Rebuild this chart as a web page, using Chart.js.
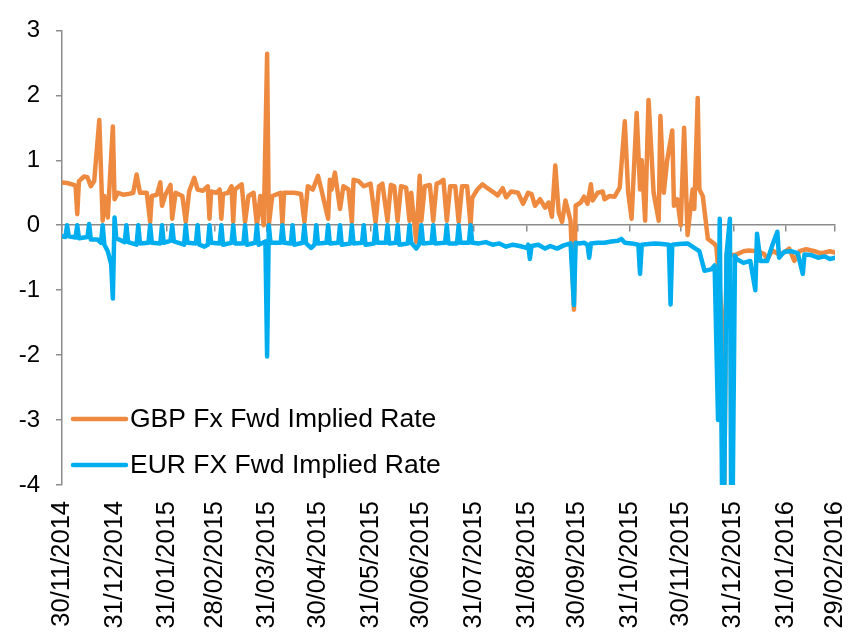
<!DOCTYPE html>
<html>
<head>
<meta charset="utf-8">
<script src="https://cdn.jsdelivr.net/npm/chart.js@4/dist/chart.umd.min.js"></script>
<style>
  html, body { margin: 0; padding: 0; background: #ffffff; }
  #wrap { width: 848px; height: 635px; position: relative; }
</style>
</head>
<body>
<div id="wrap"><canvas id="c" width="848" height="635"></canvas></div>
<script>
// ---- Data (days counted from 30/11/2014) ----
const tickDays = [0, 31, 62, 90, 121, 151, 182, 212, 243, 274, 304, 335, 365, 396, 427, 456];
const tickLabels = ['30/11/2014','31/12/2014','31/01/2015','28/02/2015','31/03/2015','30/04/2015',
  '31/05/2015','30/06/2015','31/07/2015','31/08/2015','30/09/2015','31/10/2015','30/11/2015',
  '31/12/2015','31/01/2016','29/02/2016'];
const seriesNames = ['GBP Fx Fwd Implied Rate', 'EUR FX Fwd Implied Rate'];

const gbpDays = [0,3,6,8,9,10,13,15,17,19,22,24,25,27,30,31,33,36,39,42,44,46,50,52,53,56,58,59,61,64,65,67,71,73,75,78,80,83,86,87,88,91,93,94,95,98,100,101,102,106,108,110,113,115,117,119,121,122,124,127,129,130,131,137,141,143,145,148,151,153,157,158,159,161,164,166,169,171,172,175,178,182,185,187,189,192,194,196,198,200,203,205,206,209,211,212,214,217,219,221,223,225,227,229,232,234,236,239,241,242,245,248,251,255,257,260,262,265,269,272,275,277,279,282,285,287,289,291,293,295,297,300,302,303,306,308,310,312,313,316,319,320,323,326,329,332,334,336,339,341,342,344,346,349,352,353,355,357,360,361,363,365,367,369,372,373,375,376,378,381,385,386,389,390,392,397,402,405,410,414,416,419,423,426,429,432,435,439,444,447,450,453,456];
const gbpRates = [0.66,0.65,0.63,0.61,0.17,0.68,0.75,0.74,0.6,0.68,1.62,0.07,0.45,0.12,1.52,0.4,0.5,0.47,0.48,0.5,0.78,0.5,0.5,0.05,0.45,0.47,0.66,0.3,0.47,0.62,0.1,0.5,0.45,0.05,0.52,0.73,0.55,0.53,0.6,0.1,0.52,0.5,0.55,0.1,0.48,0.5,0.6,0.05,0.55,0.63,0.05,0.45,0.5,0.0,0.45,0.0,2.64,0.0,0.45,0.48,0.5,0.02,0.5,0.5,0.48,0.05,0.6,0.55,0.76,0.55,0.1,0.7,0.55,0.81,0.25,0.6,0.55,0.05,0.7,0.68,0.6,0.64,0.04,0.6,0.64,0.07,0.62,0.6,0.07,0.6,0.58,0.07,0.5,-0.26,0.76,0.07,0.6,0.62,0.07,0.64,0.66,0.7,0.07,0.6,0.6,0.05,0.6,0.6,0.0,0.42,0.55,0.63,0.57,0.5,0.46,0.57,0.43,0.52,0.5,0.33,0.5,0.48,0.3,0.4,0.27,0.35,0.13,0.92,0.2,0.05,0.38,0.07,-1.3,0.3,0.35,0.44,0.33,0.63,0.38,0.5,0.52,0.4,0.45,0.44,0.58,1.6,0.5,0.1,1.73,0.55,1.0,0.07,1.93,0.5,0.07,1.68,0.5,1.0,1.46,0.3,0.4,0.0,1.5,-0.15,0.55,0.25,1.96,0.55,0.45,-0.21,-0.29,-0.33,-1.3,-6,-0.46,-0.46,-0.4,-0.39,-0.4,-0.44,-0.52,-0.39,-0.45,-0.42,-0.36,-0.55,-0.4,-0.37,-0.4,-0.43,-0.42,-0.4,-0.42];

const eurDays = [0,2,3,4,8,9,10,15,16,17,21,23,24,25,27,29,30,31,32,37,38,39,44,45,46,51,52,53,58,59,60,64,65,66,72,73,74,79,80,81,84,86,87,88,93,94,95,100,101,102,107,108,109,114,115,116,120,121,122,123,129,130,131,135,136,137,142,143,144,147,149,150,151,156,157,158,163,164,165,170,171,172,177,178,179,184,185,186,191,192,193,197,198,199,204,205,206,209,211,212,213,218,219,220,226,227,228,233,234,235,240,241,242,246,250,254,258,262,266,270,274,275,276,277,281,285,288,292,296,300,302,303,305,308,310,311,312,316,320,324,328,330,332,336,340,341,342,346,350,354,358,359,360,364,369,373,376,379,383,385,387,388,390,392,394,395,397,398,402,406,409,410,412,416,419,422,423,426,430,434,437,438,442,446,450,453,456];
const eurRates = [-0.17,-0.18,0.0,-0.17,-0.19,0.0,-0.2,-0.18,0.02,-0.22,-0.22,-0.27,0.0,-0.3,-0.4,-0.6,-1.13,0.12,-0.2,-0.26,0.0,-0.26,-0.3,0.0,-0.28,-0.27,0.0,-0.27,-0.28,0.0,-0.27,-0.24,0.0,-0.25,-0.3,0.0,-0.27,-0.28,0.0,-0.3,-0.33,-0.3,0.0,-0.27,-0.28,0.0,-0.3,-0.27,0.0,-0.28,-0.28,0.0,-0.3,-0.27,0.0,-0.3,-0.25,-2.02,0.0,-0.27,-0.27,0.0,-0.27,-0.28,0.0,-0.3,-0.27,0.0,-0.28,-0.35,-0.3,0.0,-0.28,-0.27,0.0,-0.28,-0.27,0.0,-0.3,-0.28,0.0,-0.28,-0.27,0.0,-0.3,-0.28,0.0,-0.27,-0.27,0.0,-0.28,-0.27,0.0,-0.3,-0.28,0.0,-0.27,-0.36,-0.28,0.0,-0.28,-0.27,0.0,-0.28,-0.27,0.0,-0.28,-0.28,0.0,-0.27,-0.27,0.0,-0.27,-0.28,-0.26,-0.3,-0.28,-0.33,-0.3,-0.32,-0.35,-0.3,-0.52,-0.32,-0.3,-0.36,-0.32,-0.36,-0.31,-0.28,-1.23,-0.27,-0.28,-0.27,-0.3,-0.5,-0.28,-0.27,-0.27,-0.25,-0.24,-0.21,-0.27,-0.28,-0.3,-0.75,-0.3,-0.29,-0.28,-0.29,-0.3,-1.22,-0.3,-0.29,-0.28,-0.35,-0.4,-0.7,-0.68,-0.62,-3.0,0.1,-6,-0.45,0.1,-6,-0.47,-0.52,-0.58,-0.55,-1.0,-0.13,-0.55,-0.55,-0.31,-0.1,-0.5,-0.41,-0.4,-0.43,-0.75,-0.45,-0.46,-0.5,-0.48,-0.52,-0.5];

const yTicks = [3, 2, 1, 0, -1, -2, -3, -4];

// ---- Styling ----
const GBP_COLOR = '#EE8A40';
const EUR_COLOR = '#00AEEF';
const AXIS_COLOR = '#8C8C8C';
const FONT = 'Liberation Sans, Arial, sans-serif';

const toPoints = (days, vals) => days.map((d, i) => ({ x: d, y: vals[i] }));

const setMonthTicks = (scale) => { scale.ticks = tickDays.map(v => ({ value: v })); };

const insideLegend = {
  id: 'insideLegend',
  afterDraw(chart) {
    const ctx = chart.ctx;
    const area = chart.chartArea;
    const items = chart.data.datasets;
    const rows = [area.bottom - 66, area.bottom - 20];
    ctx.save();
    ctx.font = '26.5px ' + FONT;
    ctx.textBaseline = 'middle';
    ctx.textAlign = 'left';
    items.forEach((ds, i) => {
      const y = rows[i];
      ctx.strokeStyle = ds.borderColor;
      ctx.lineWidth = 4.5;
      ctx.lineCap = 'round';
      ctx.beginPath();
      ctx.moveTo(area.left + 11, y);
      ctx.lineTo(area.left + 64, y);
      ctx.stroke();
      ctx.fillStyle = '#000000';
      ctx.fillText(ds.label, area.left + 68, y + 1);
    });
    ctx.restore();
  }
};

new Chart(document.getElementById('c'), {
  type: 'line',
  data: {
    datasets: [
      {
        label: seriesNames[0],
        data: toPoints(gbpDays, gbpRates),
        borderColor: GBP_COLOR,
        backgroundColor: GBP_COLOR,
        borderWidth: 4.5,
        pointRadius: 0,
        tension: 0,
        borderJoinStyle: 'round',
        borderCapStyle: 'round',
        order: 1,
        xAxisID: 'x'
      },
      {
        label: seriesNames[1],
        data: toPoints(eurDays, eurRates),
        borderColor: EUR_COLOR,
        backgroundColor: EUR_COLOR,
        borderWidth: 4.5,
        pointRadius: 0,
        tension: 0,
        borderJoinStyle: 'round',
        borderCapStyle: 'round',
        order: 0,
        xAxisID: 'x'
      }
    ]
  },
  options: {
    responsive: false,
    animation: false,
    layout: { padding: { top: 27, right: 13, bottom: 0, left: 0 } },
    plugins: { legend: { display: false }, tooltip: { enabled: false } },
    scales: {
      x: {
        type: 'linear',
        position: 'bottom',
        min: 0,
        max: 456,
        afterBuildTicks: setMonthTicks,
        afterFit: (s) => { s.height = 150; s.paddingLeft = 0; s.paddingRight = 0; },
        grid: { display: false, drawTicks: false },
        border: { display: false },
        ticks: {
          autoSkip: false,
          maxRotation: 90,
          minRotation: 90,
          padding: 16,
          color: '#000000',
          font: { family: FONT, size: 25.5 },
          callback: (v) => tickLabels[tickDays.indexOf(v)]
        }
      },
      x0: {
        type: 'linear',
        axis: 'x',
        position: { y: 0 },
        min: 0,
        max: 456,
        afterBuildTicks: setMonthTicks,
        afterFit: (s) => { s.paddingLeft = 0; s.paddingRight = 0; },
        grid: { display: true, drawOnChartArea: false, drawTicks: true, tickLength: 6, color: AXIS_COLOR, lineWidth: 1.5 },
        border: { display: true, color: AXIS_COLOR, width: 1.5 },
        ticks: { display: false }
      },
      y: {
        type: 'linear',
        position: 'left',
        min: -4,
        max: 3,
        afterBuildTicks: (s) => { s.ticks = yTicks.map(v => ({ value: v })); },
        afterFit: (s) => { s.width = 62; },
        grid: { display: true, drawOnChartArea: false, drawTicks: true, tickLength: 6, color: AXIS_COLOR, lineWidth: 1.5 },
        border: { display: true, color: AXIS_COLOR, width: 1.5 },
        ticks: {
          padding: 16,
          color: '#000000',
          font: { family: FONT, size: 24 }
        }
      }
    }
  },
  plugins: [insideLegend]
});
</script>
</body>
</html>
